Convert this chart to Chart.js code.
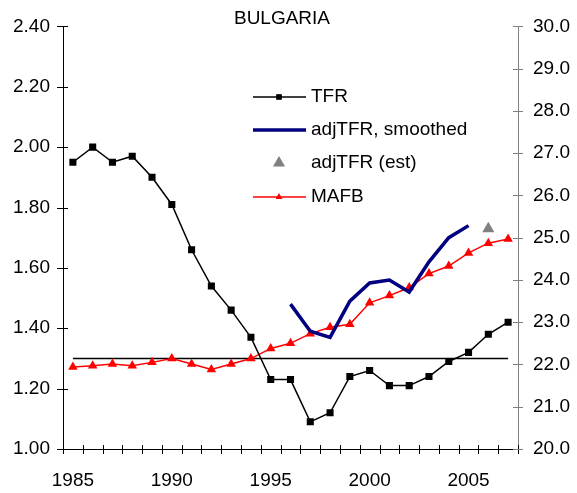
<!DOCTYPE html>
<html>
<head>
<meta charset="utf-8">
<script src="https://cdn.jsdelivr.net/npm/chart.js@4/dist/chart.umd.min.js"></script>
<style>
  body { margin: 0; background: #fff; }
  #wrap { position: relative; width: 577px; height: 493px; }
</style>
</head>
<body>
<div id="wrap"><canvas id="my-chart"></canvas></div>
<script>
var years = ['1985', '1986', '1987', '1988', '1989', '1990', '1991', '1992', '1993', '1994', '1995', '1996',
  '1997', '1998', '1999', '2000', '2001', '2002', '2003', '2004', '2005', '2006', '2007'];

// total fertility rate (left axis)
var tfr = [1.95, 2.00, 1.95, 1.97, 1.90, 1.81, 1.66, 1.54, 1.46, 1.37, 1.23, 1.23,
  1.09, 1.12, 1.24, 1.26, 1.21, 1.21, 1.24, 1.29, 1.32, 1.38, 1.42];

// adjusted TFR, smoothed, 1996-2005 (left axis)
var adjYears = ['1996', '1997', '1998', '1999', '2000', '2001', '2002', '2003', '2004', '2005'];
var adjTfr = [1.48, 1.39, 1.37, 1.49, 1.55, 1.56, 1.52, 1.62, 1.70, 1.74];

// adjusted TFR estimate
var estYears = ['2006'];
var estTfr = [1.73];

// mean age at first birth (right axis)
var mafb = [21.94, 21.97, 22.01, 21.97, 22.05, 22.14, 22.01, 21.88, 22.01, 22.14, 22.38, 22.50,
  22.73, 22.88, 22.95, 23.46, 23.63, 23.82, 24.15, 24.33, 24.64, 24.87, 24.97];

// horizontal reference line
var refYears = ['1985', '2007'];
var refLevel = [1.30, 1.30];

var leftTicks = { min: 1.0, max: 2.4, step: 0.2 };
var rightTicks = { min: 20.0, max: 30.0, step: 1.0 };

var FONT = "'Liberation Sans', Arial, sans-serif";

function toPoints(xs, ys) {
  var out = [];
  for (var i = 0; i < xs.length; i++) {
    out.push({ x: xs[i], y: ys[i] });
  }
  return out;
}

function markerPath(ctx, style, x, y, r) {
  ctx.beginPath();
  if (style === 'rect') {
    var s = r * Math.SQRT1_2;
    ctx.rect(x - s, y - s, 2 * s, 2 * s);
  } else {
    // triangle like chart.js draws it
    ctx.moveTo(x + Math.sin(0) * r, y - Math.cos(0) * r);
    ctx.lineTo(x + Math.sin(2 * Math.PI / 3) * r, y - Math.cos(2 * Math.PI / 3) * r);
    ctx.lineTo(x + Math.sin(4 * Math.PI / 3) * r, y - Math.cos(4 * Math.PI / 3) * r);
    ctx.closePath();
  }
  ctx.fill();
}

// title, crossing tick marks and the legend
var decorPlugin = {
  id: 'decor',
  afterDraw: function (chart) {
    var ctx = chart.ctx;
    var x = chart.scales.x;
    var yl = chart.scales.y;
    var yr = chart.scales.y2;
    ctx.save();

    ctx.lineWidth = 1;
    ctx.strokeStyle = '#000';
    ctx.beginPath();
    yl.ticks.forEach(function (t) {
      var py = Math.round(yl.getPixelForValue(t.value)) + 0.5;
      ctx.moveTo(yl.right - 6, py);
      ctx.lineTo(yl.right + 5, py);
    });
    var n = years.length;
    var step = (x.right - x.left) / n;
    for (var i = 0; i <= n; i++) {
      var px = Math.round(x.left + i * step) + 0.5;
      ctx.moveTo(px, x.top - 4);
      ctx.lineTo(px, x.top + 5);
    }
    ctx.stroke();

    ctx.strokeStyle = '#808080';
    ctx.beginPath();
    yr.ticks.forEach(function (t) {
      var py = Math.round(yr.getPixelForValue(t.value)) + 0.5;
      ctx.moveTo(yr.left - 5, py);
      ctx.lineTo(yr.left + 5, py);
    });
    ctx.stroke();

    ctx.fillStyle = '#000';
    ctx.font = '19px ' + FONT;
    ctx.textAlign = 'center';
    ctx.textBaseline = 'middle';
    ctx.fillText('BULGARIA', 282, 19);

    // legend
    var rows = [
      { ds: chart.data.datasets[0], y: 97, line: true, marker: 'rect' },
      { ds: chart.data.datasets[1], y: 130, line: true, marker: null },
      { ds: chart.data.datasets[2], y: 163, line: false, marker: 'triangle' },
      { ds: chart.data.datasets[3], y: 197, line: true, marker: 'triangle' }
    ];
    ctx.textAlign = 'left';
    rows.forEach(function (r) {
      if (r.line) {
        ctx.strokeStyle = r.ds.borderColor;
        ctx.lineWidth = r.ds.borderWidth;
        ctx.beginPath();
        ctx.moveTo(253, r.y);
        ctx.lineTo(306, r.y);
        ctx.stroke();
      }
      if (r.marker) {
        ctx.fillStyle = r.ds.pointBackgroundColor;
        markerPath(ctx, r.marker, 279, r.y, r.line ? 4 : r.ds.pointRadius);
      }
      ctx.fillStyle = '#000';
      ctx.fillText(r.ds.label, 311, r.y);
    });
    ctx.restore();
  }
};

var ctx = document.getElementById('my-chart');
var myChart = new Chart(ctx, {
  type: 'line',
  data: {
    labels: years,
    datasets: [
      {
        label: 'TFR',
        data: tfr,
        yAxisID: 'y',
        borderColor: '#000000',
        backgroundColor: '#000000',
        borderWidth: 1.5,
        pointStyle: 'rect',
        pointRadius: 5,
        pointBorderWidth: 0,
        pointBackgroundColor: '#000000',
        tension: 0
      },
      {
        label: 'adjTFR, smoothed',
        data: toPoints(adjYears, adjTfr),
        yAxisID: 'y',
        borderColor: '#000080',
        borderWidth: 3.5,
        pointRadius: 0,
        tension: 0
      },
      {
        label: 'adjTFR (est)',
        data: toPoints(estYears, estTfr),
        yAxisID: 'y',
        showLine: false,
        pointStyle: 'triangle',
        pointRadius: 7,
        pointBorderWidth: 0,
        borderColor: '#808080',
        pointBackgroundColor: '#808080'
      },
      {
        label: 'MAFB',
        data: mafb,
        yAxisID: 'y2',
        borderColor: '#ff0000',
        backgroundColor: '#ff0000',
        borderWidth: 1.5,
        pointStyle: 'triangle',
        pointRadius: 5.5,
        pointBorderWidth: 0,
        pointBackgroundColor: '#ff0000',
        tension: 0
      },
      {
        label: 'level',
        data: toPoints(refYears, refLevel),
        yAxisID: 'y',
        borderColor: '#000000',
        borderWidth: 1.5,
        pointRadius: 0,
        tension: 0
      }
    ]
  },
  options: {
    responsive: true,
    maintainAspectRatio: false,
    animation: false,
    layout: { padding: { top: 20, left: 0, right: 0, bottom: 0 } },
    plugins: {
      legend: { display: false },
      title: { display: false },
      tooltip: { enabled: false }
    },
    scales: {
      x: {
        type: 'category',
        offset: true,
        grid: { display: false, drawTicks: false },
        border: { display: true, color: '#000', width: 1 },
        afterFit: function (s) { s.height = 44; },
        ticks: {
          autoSkip: false,
          maxRotation: 0,
          padding: 20,
          color: '#000',
          font: { family: FONT, size: 19 },
          callback: function (v, i) {
            var yr = years[i];
            return Number(yr) % 5 === 0 ? yr : '';
          }
        }
      },
      y: {
        position: 'left',
        min: leftTicks.min,
        max: leftTicks.max,
        grid: { display: false, drawTicks: false },
        border: { display: true, color: '#000', width: 1 },
        afterFit: function (s) { s.width = 63; },
        ticks: {
          stepSize: leftTicks.step,
          padding: 13,
          color: '#000',
          font: { family: FONT, size: 19 },
          callback: function (v) { return v.toFixed(2); }
        }
      },
      y2: {
        position: 'right',
        min: rightTicks.min,
        max: rightTicks.max,
        grid: { display: false, drawTicks: false },
        border: { display: true, color: '#808080', width: 1 },
        afterFit: function (s) { s.width = 59; },
        ticks: {
          stepSize: rightTicks.step,
          padding: 15,
          color: '#000',
          font: { family: FONT, size: 19 },
          callback: function (v) { return v.toFixed(1); }
        }
      }
    }
  },
  plugins: [decorPlugin]
});
</script>
</body>
</html>
